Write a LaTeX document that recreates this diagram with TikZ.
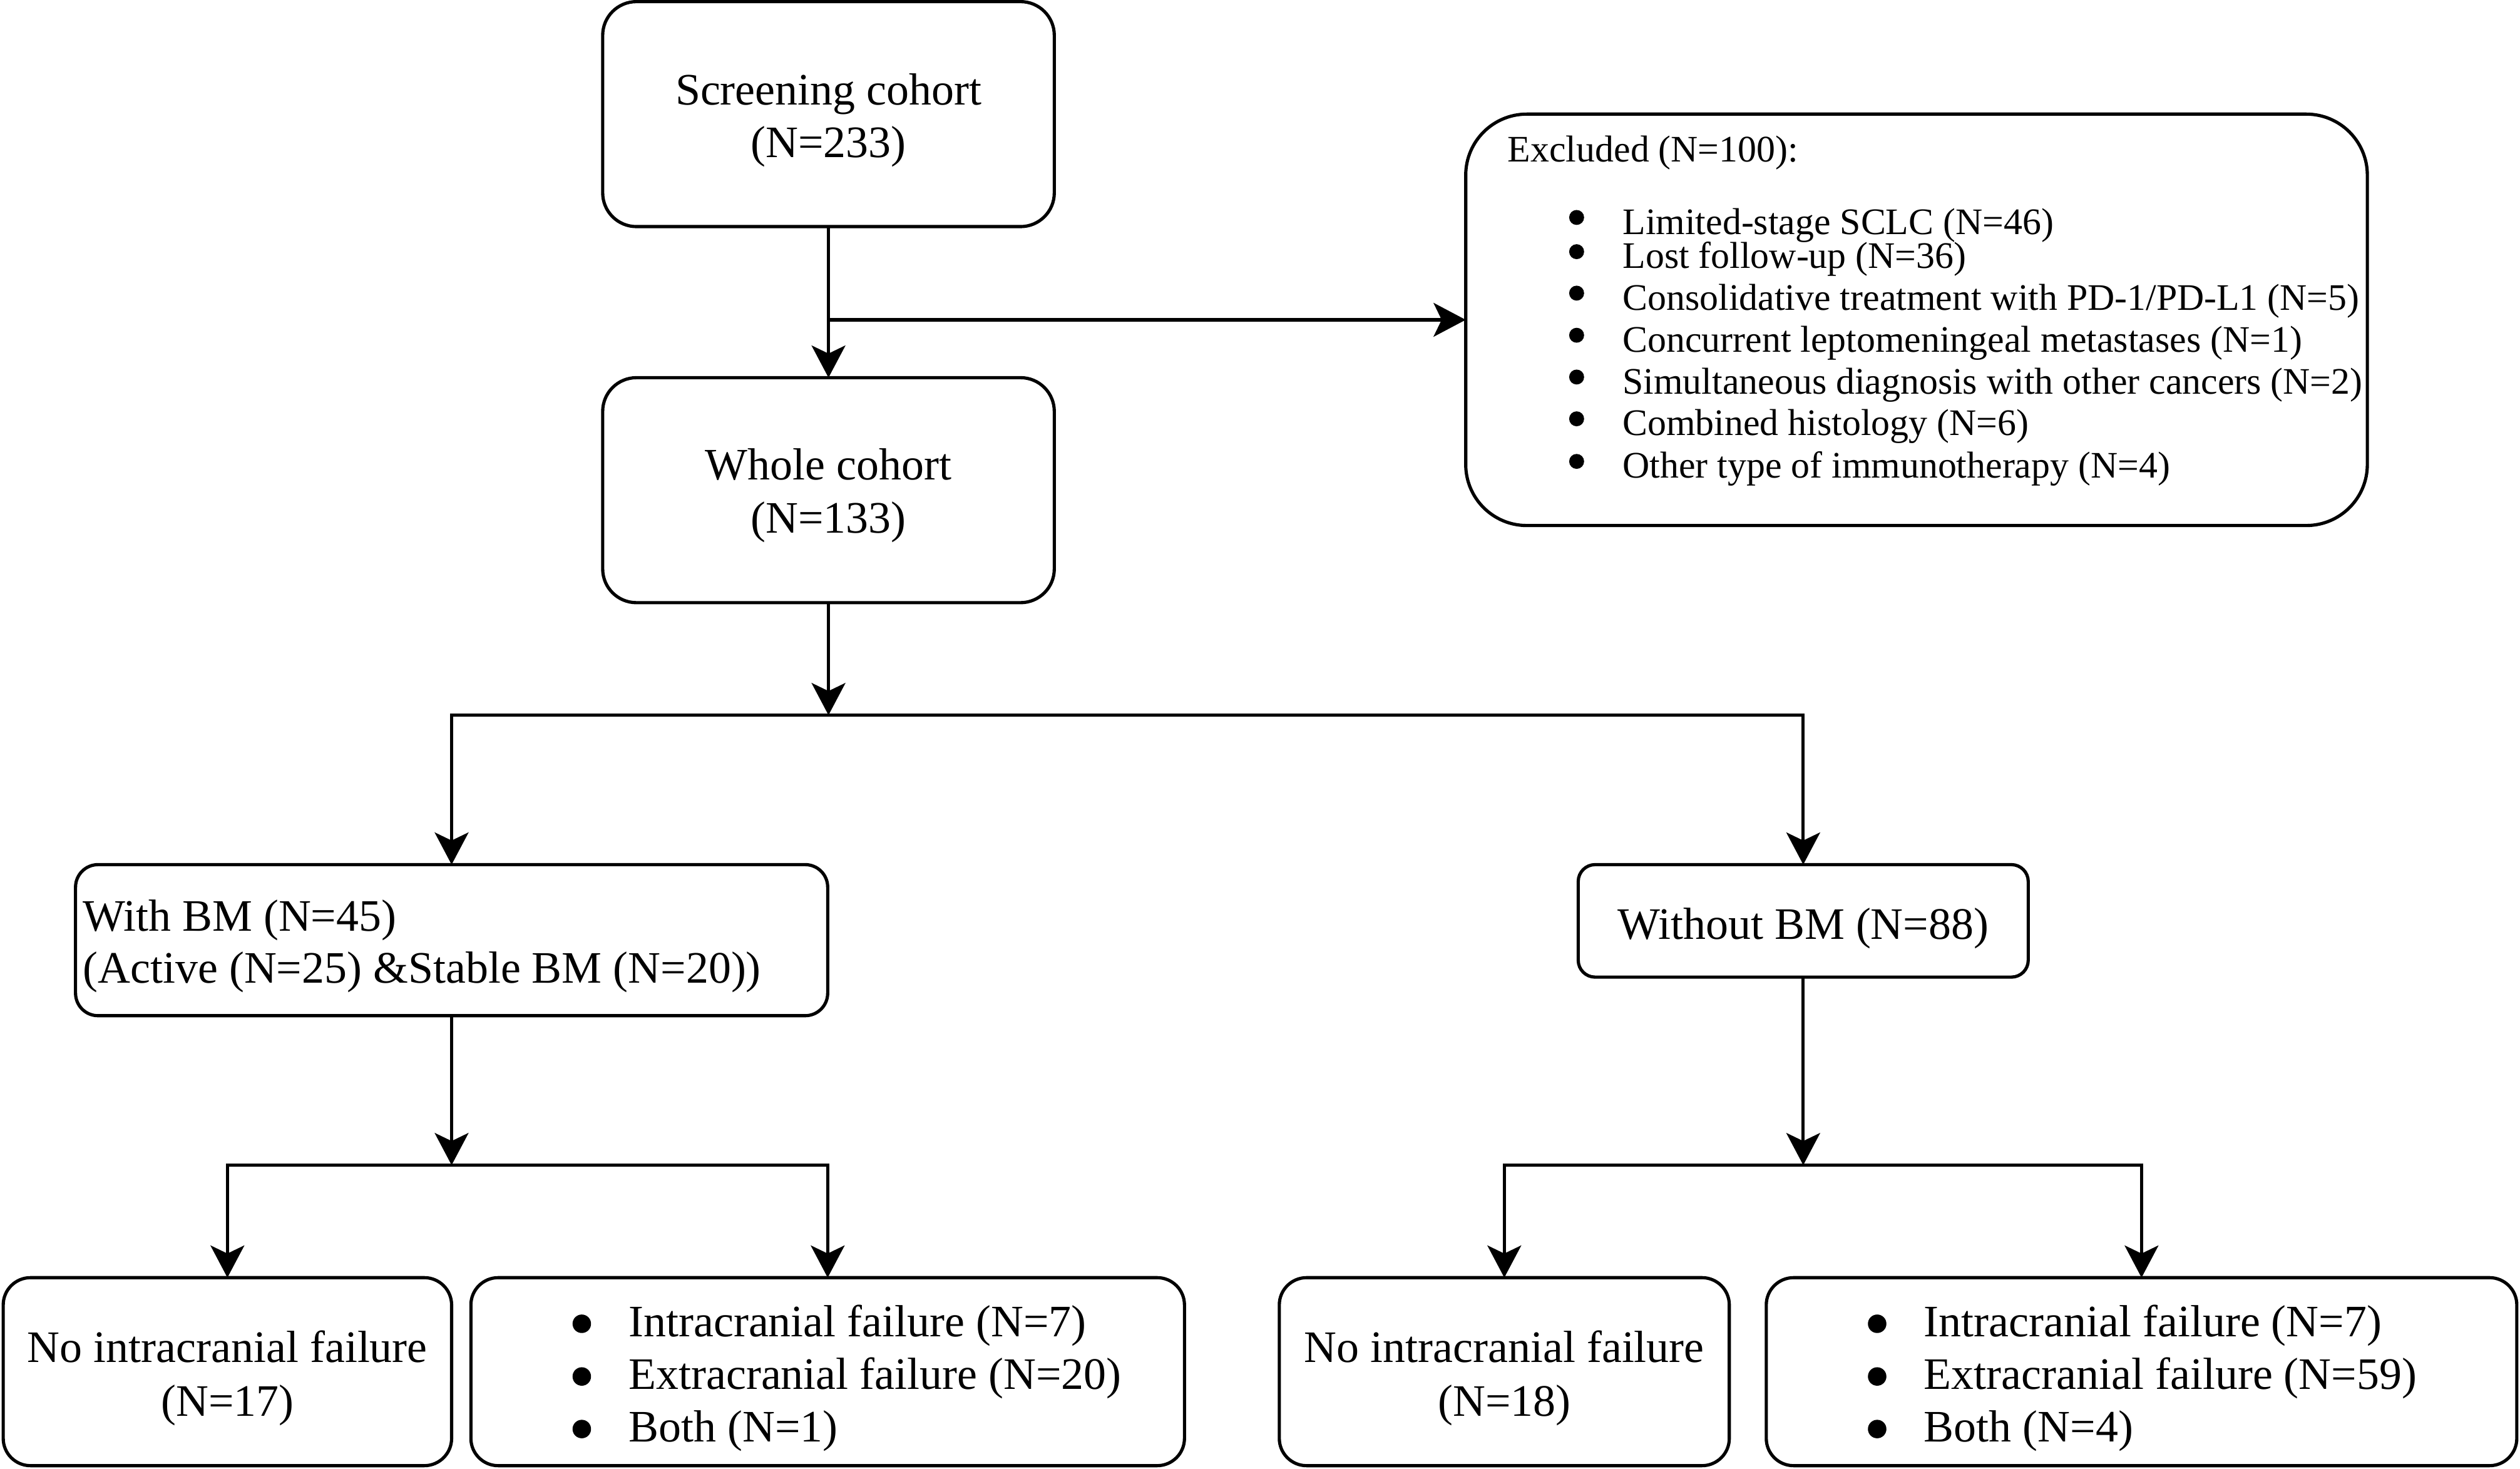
\documentclass[tikz,border=0pt]{standalone}
\usepackage{fontspec}
\setmainfont{Liberation Serif}
\usetikzlibrary{arrows.meta}
\begin{document}
\begin{tikzpicture}[x=1pt,y=-1pt,
  box/.style={draw, line width=2pt, inner sep=0pt, outer sep=0pt},
  arr/.style={line width=2pt, -{Stealth[length=20pt,width=21pt,inset=5pt]}},
  big/.style={font=\fontsize{28}{33.5}\selectfont, inner sep=0pt},
  small/.style={font=\fontsize{23.3}{28}\selectfont, inner sep=0pt},
  dot/.style={circle, fill=black, inner sep=0pt, outer sep=0pt},
]
\useasboundingbox (0,0) rectangle (1568,913.7);

% boxes
\node[box, minimum width=281pt, minimum height=140pt, rounded corners=21pt] (scr) at (515.5,71) {};
\node[box, minimum width=281pt, minimum height=140pt, rounded corners=21pt] (whole) at (515.5,305) {};
\node[box, minimum width=561pt, minimum height=256pt, rounded corners=38pt] (excl) at (1192.5,199) {};
\node[box, minimum width=468pt, minimum height=94pt, rounded corners=14pt] (withbm) at (281,585) {};
\node[box, minimum width=280pt, minimum height=70pt, rounded corners=10.5pt] (without) at (1122,573) {};
\node[box, minimum width=279pt, minimum height=117pt, rounded corners=17pt] (b1) at (141.5,853.5) {};
\node[box, minimum width=444pt, minimum height=117pt, rounded corners=17pt] (b2) at (515,853.5) {};
\node[box, minimum width=280pt, minimum height=117pt, rounded corners=17pt] (b3) at (936,853.5) {};
\node[box, minimum width=467pt, minimum height=117pt, rounded corners=17pt] (b4) at (1332.5,853.5) {};

% texts
\node[big, anchor=base] (scrt1) at (515.5,65.2) {Screening cohort};
\node[big, anchor=base] (scrt2) at (515.5,98) {(N=233)};
\node[big, anchor=base] (wht1) at (515.5,298.5) {Whole cohort};
\node[big, anchor=base] (wht2) at (515.5,331.5) {(N=133)};

\node[small, anchor=base west] (ex0) at (938,100.6) {Excluded (N=100):};
\foreach \y/\t [count=\i] in {145.7/{Limited-stage SCLC (N=46)},
  167/{Lost follow-up (N=36)},
  192.8/{Consolidative treatment with PD-1/PD-L1 (N=5)},
  219/{Concurrent leptomeningeal metastases (N=1)},
  245/{Simultaneous diagnosis with other cancers (N=2)},
  271/{Combined histology (N=6)},
  297.5/{Other type of immunotherapy (N=4)}}{
  \node[dot, minimum size=9.3pt] (exb\i) at (981,\y-10.4) {};
  \node[small, anchor=base west] (ex\i) at (1009.5,\y) {\t};
}

\node[big, anchor=base west] (wbt1) at (51.4,579.2) {With BM (N=45)};
\node[big, anchor=base west] (wbt2) at (51.4,611.5) {(Active (N=25) \&Stable BM (N=20))};
\node[big, anchor=base] (wot) at (1122,584.2) {Without BM (N=88)};

\node[big, anchor=base] (b1t1) at (141.5,847.8) {No intracranial failure};
\node[big, anchor=base] (b1t2) at (141.5,881.3) {(N=17)};
\node[big, anchor=base] (b3t1) at (936,847.8) {No intracranial failure};
\node[big, anchor=base] (b3t2) at (936,881.3) {(N=18)};

\foreach \y/\t [count=\i] in {831.5/{Intracranial failure (N=7)},
  864.3/{Extracranial failure (N=20)}, 897/{Both (N=1)}}{
  \node[dot, minimum size=11.5pt] (b2b\i) at (362,\y-7.8) {};
  \node[big, anchor=base west] (b2t\i) at (391,\y) {\t};
}
\foreach \y/\t [count=\i] in {831.5/{Intracranial failure (N=7)},
  864.3/{Extracranial failure (N=59)}, 897/{Both (N=4)}}{
  \node[dot, minimum size=11.5pt] (b4b\i) at (1168,\y-7.8) {};
  \node[big, anchor=base west] (b4t\i) at (1197,\y) {\t};
}

% connectors
\draw[arr] (scr.south) -- (whole.north);
\coordinate (j1) at (515.5,199);
\draw[arr] (j1) -- (excl.west);
\coordinate (j2) at (515.5,445);
\draw[arr] (whole.south) -- (j2);
\draw[arr] (j2) -| (withbm.north);
\draw[arr] (j2) -| (without.north);
\coordinate (j3) at (281,725);
\draw[arr] (withbm.south) -- (j3);
\draw[arr] (j3) -| (b1.north);
\draw[arr] (j3) -| (b2.north);
\coordinate (j4) at (1122,725);
\draw[arr] (without.south) -- (j4);
\draw[arr] (j4) -| (b3.north);
\draw[arr] (j4) -| (b4.north);
\end{tikzpicture}
\end{document}
